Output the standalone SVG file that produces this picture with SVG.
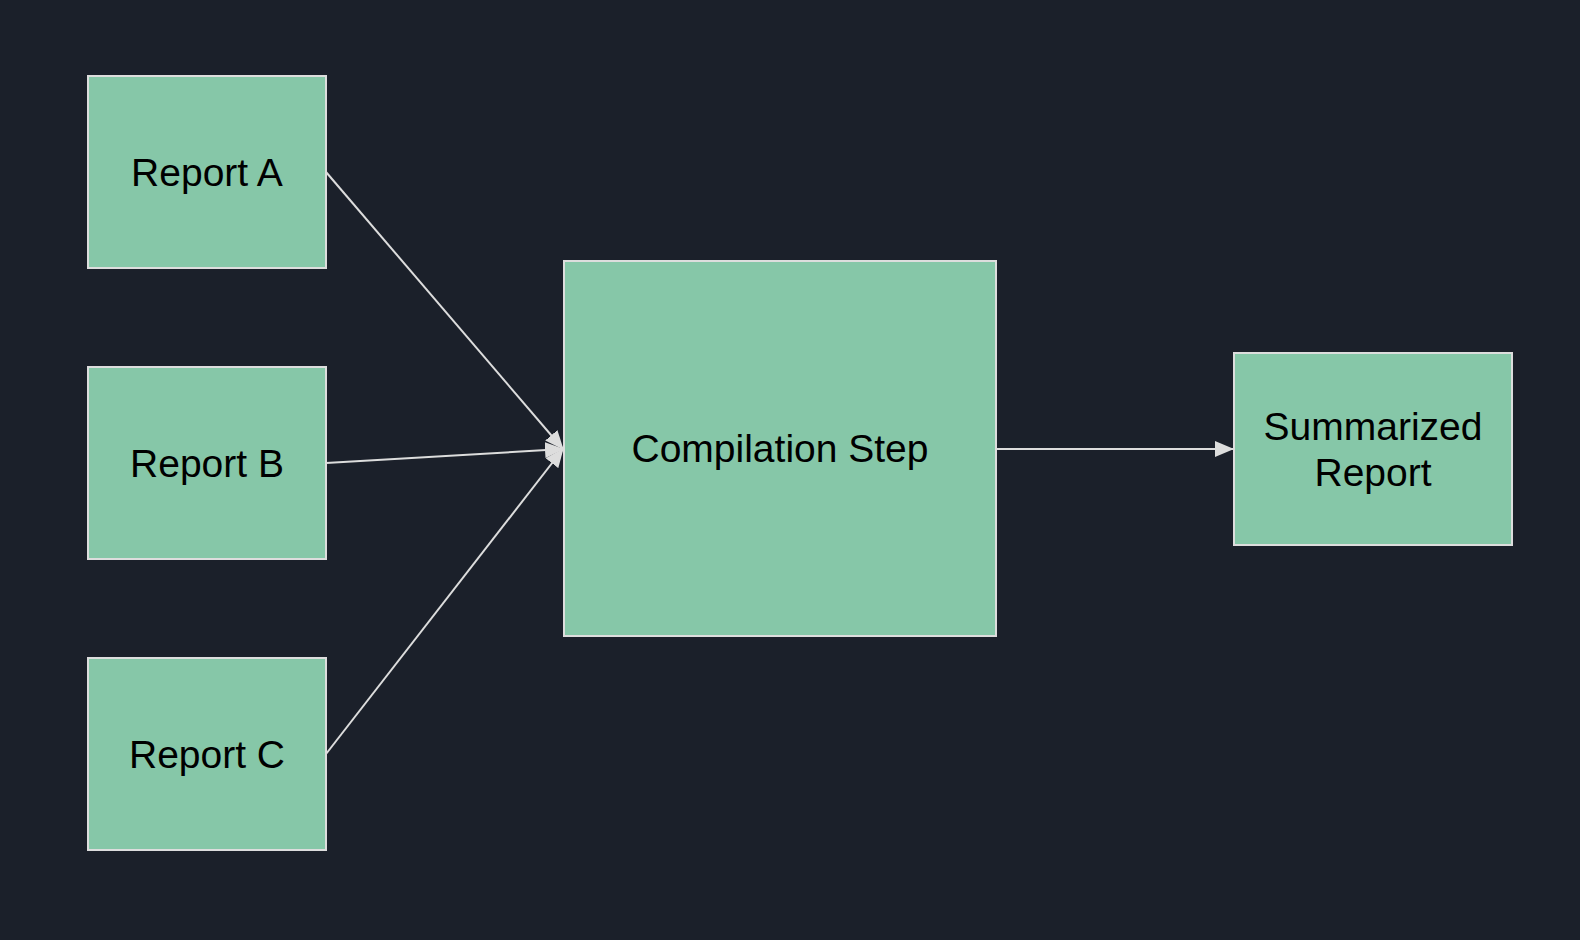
<svg xmlns="http://www.w3.org/2000/svg" width="1580" height="940" viewBox="0 0 1580 940">
<defs>
<style>
.node rect{fill:#86c7a8;stroke:#dddddd;stroke-width:2}
.node text{font-family:"Liberation Sans",Arial,sans-serif;font-size:39px;fill:#000;text-anchor:middle}
.edge{stroke:#dddddd;stroke-width:2;fill:none;marker-end:url(#arr)}
</style>
<marker id="arr" viewBox="0 0 19 16" refX="18" refY="8" markerUnits="userSpaceOnUse" markerWidth="19" markerHeight="16" orient="auto">
<path d="M0,0 L19,8 L0,16 z" fill="#dddddd"/>
</marker>
</defs>
<rect width="1580" height="940" fill="#1b202a"/>
<g id="connectors">
<line class="edge" x1="326" y1="172" x2="563" y2="449"/>
<line class="edge" x1="326" y1="463" x2="563" y2="449"/>
<line class="edge" x1="326" y1="754" x2="563" y2="449"/>
<line class="edge" x1="996" y1="449" x2="1233" y2="449"/>
</g>
<g id="reportA" class="node"><rect x="88" y="76" width="238" height="192"/><text x="207" y="185.5">Report A</text></g>
<g id="reportB" class="node"><rect x="88" y="367" width="238" height="192"/><text x="207" y="476.5">Report B</text></g>
<g id="reportC" class="node"><rect x="88" y="658" width="238" height="192"/><text x="207" y="767.5">Report C</text></g>
<g id="compilation" class="node"><rect x="564" y="261" width="432" height="375"/><text x="780" y="462">Compilation Step</text></g>
<g id="summarized" class="node"><rect x="1234" y="353" width="278" height="192"/><text x="1373" y="439.5">Summarized</text><text x="1373" y="485.5">Report</text></g>
</svg>
